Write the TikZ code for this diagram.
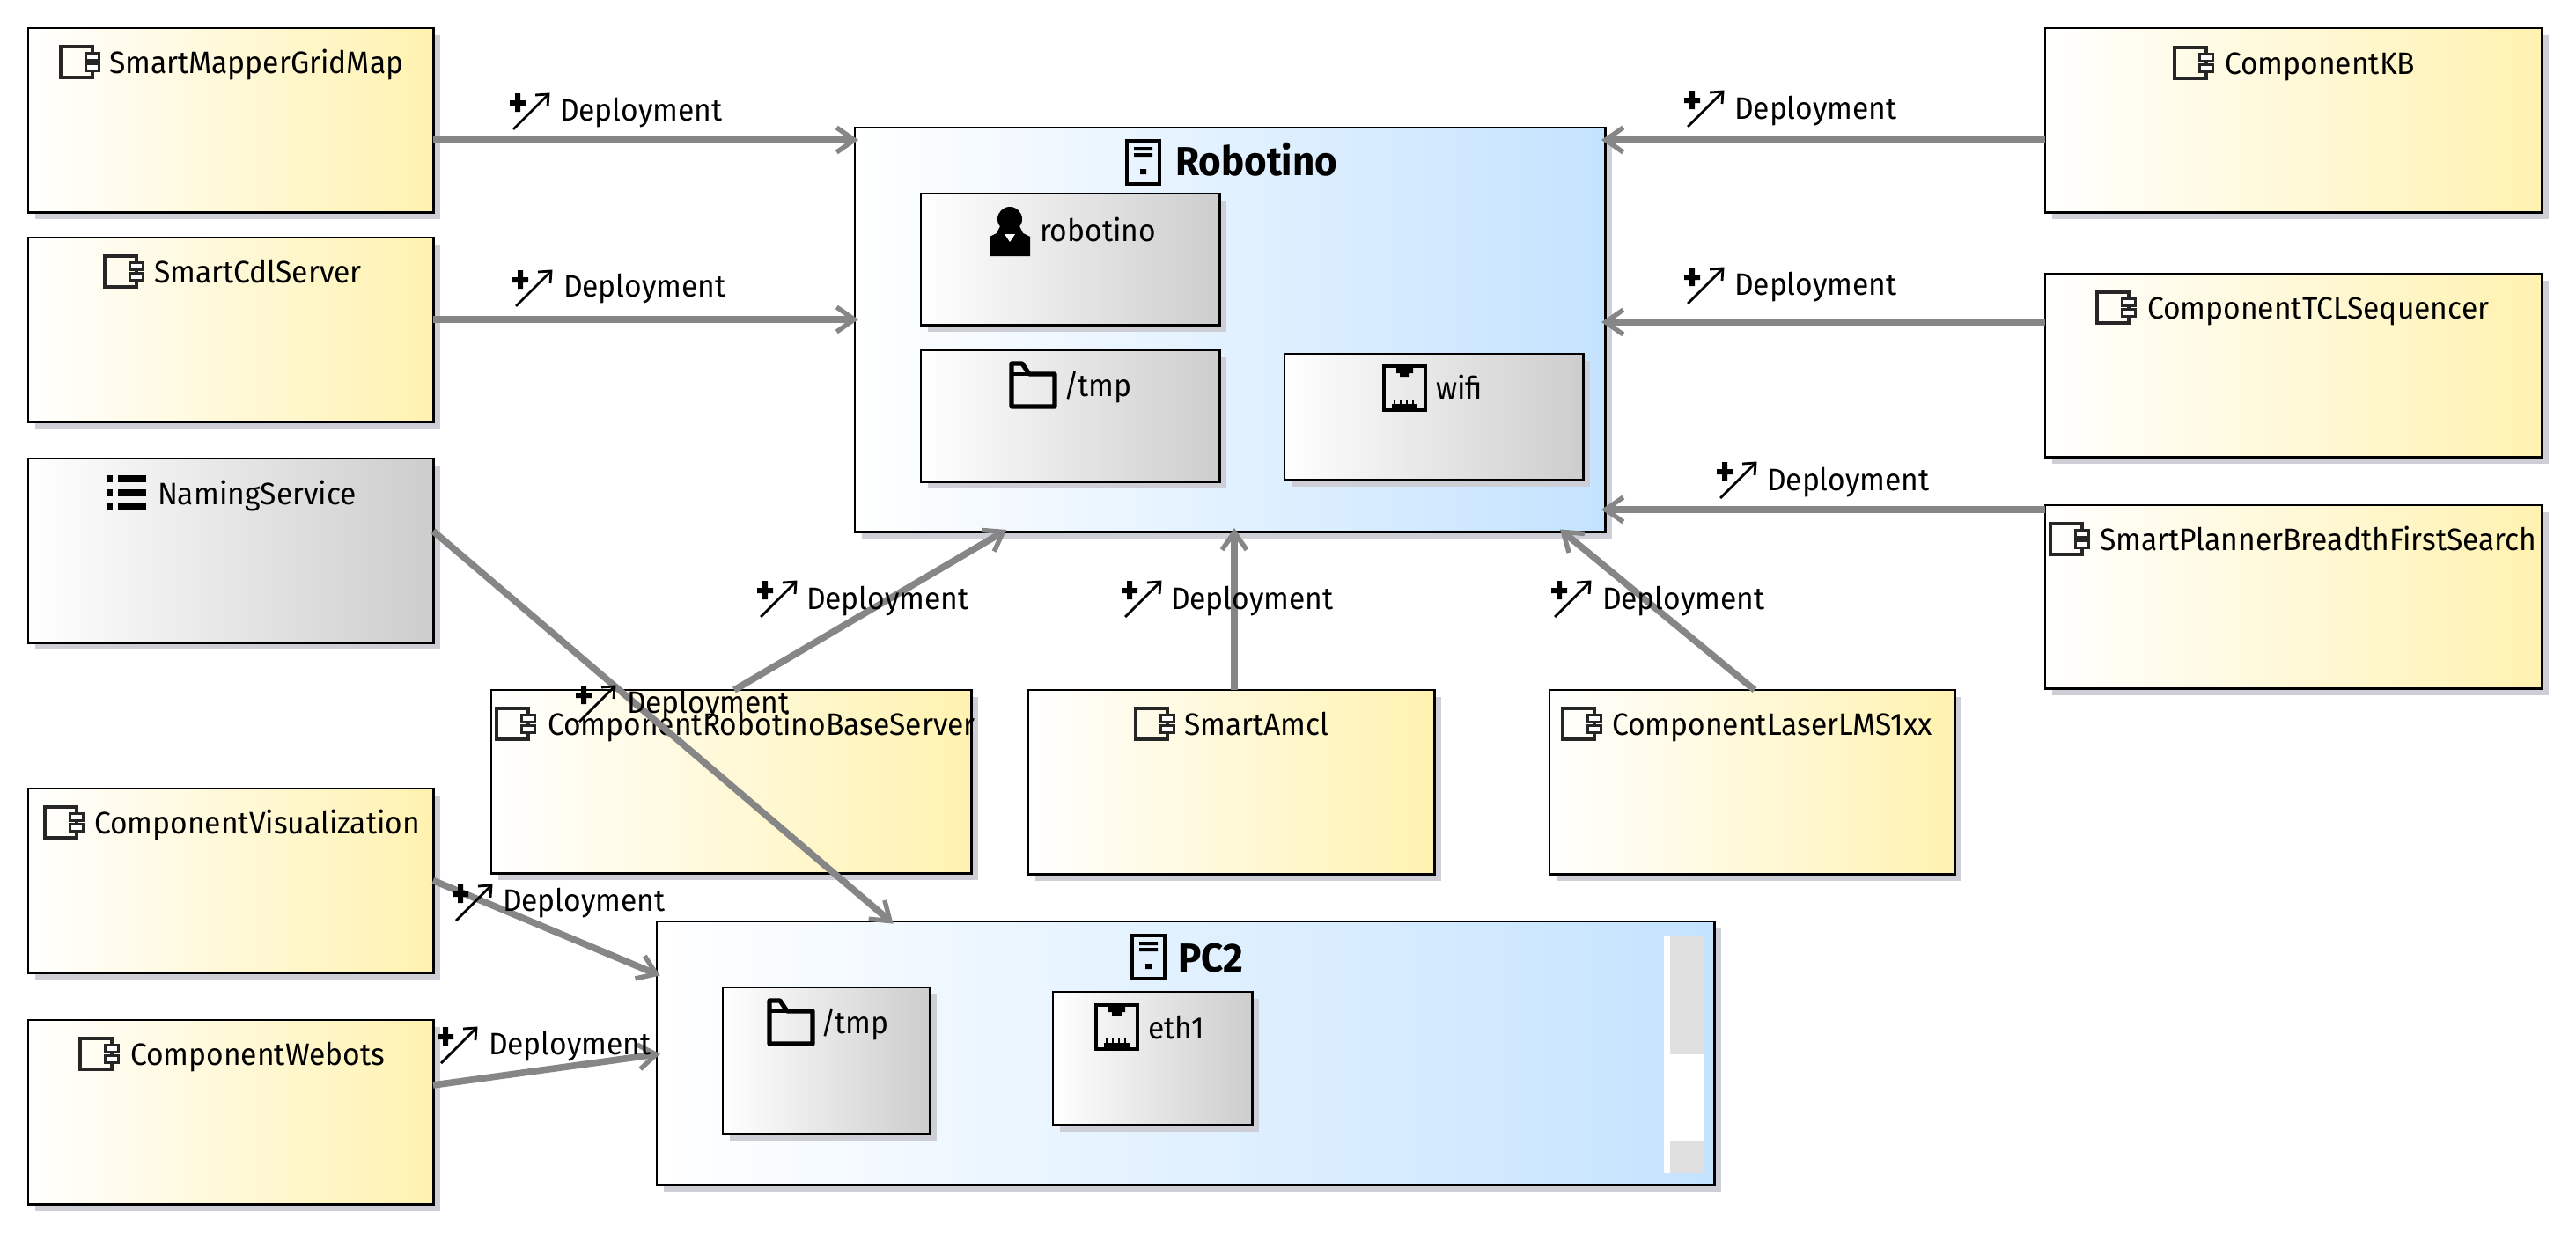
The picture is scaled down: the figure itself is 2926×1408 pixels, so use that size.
\documentclass[tikz,border=0pt]{standalone}
\usepackage{fontspec}
\setmainfont{Fira Sans}[FakeStretch=0.955]
\usetikzlibrary{arrows.meta,shadows,calc}
\definecolor{gline}{HTML}{868686}
\definecolor{shade}{HTML}{CDCED6}
\definecolor{yel}{HTML}{FFF2B0}
\definecolor{blu}{HTML}{C4E3FF}
\definecolor{gry}{HTML}{CDCDCD}
\newcommand\txtsize{\fontsize{17.6}{20}\selectfont}
\tikzset{
  x=0.5pt,y=-0.5pt,
  umlb/.style={rectangle,draw=black,line width=1pt,inner sep=0pt,outer sep=0pt,
    general shadow={shadow xshift=4pt,shadow yshift=-4pt,fill=shade,opacity=1}},
  comp/.style={umlb,left color=white,right color=yel},
  dev/.style={umlb,left color=white,right color=blu},
  art/.style={umlb,left color=white,right color=gry},
  edgeb/.style={line width=1.5pt,black,line cap=rect},
  lab/.style={anchor=base west,inner sep=0pt,outer sep=0pt,font=\txtsize,text=black},
  titl/.style={lab,font=\fontsize{23}{26}\selectfont\bfseries},
  dep/.style={line width=3.8pt,gline,shorten >=-2pt,-{Straight Barb[length=10pt,width=14pt,line width=2.7pt]}},
  pics/compicon/.style={code={
    \draw[line width=1.7pt,black!85] (0,0) rectangle (36,35);
    \draw[line width=1.5pt,black!85,fill=white] (28,7) rectangle (43,15) (28,19) rectangle (43,27);
  }},
  pics/servericon/.style={code={
    \draw[line width=2.4pt,black] (0,0) rectangle (37,49);
    \fill[black] (8,7) rectangle (29,11) (8,14) rectangle (29,18) (15,32) rectangle (22,38);
  }},
  pics/usericon/.style={code={
    \fill[black] (23,14) ellipse (14 and 14);
    \fill[black] (12,22) -- (34,22) -- (38,30) -- (46,34) -- (46,56) -- (0,56) -- (0,34) -- (8,30) -- cycle;
    \fill[white] (17,31) -- (29,31) -- (23,40) -- cycle;
  }},
  pics/foldericon/.style={code={
    \draw[line width=2.6pt,black,line join=round] (0,49) -- (0,0) -- (12,0) -- (20,12) -- (49,12) -- (49,49) -- cycle;
    \draw[line width=2pt,black] (0,12) -- (20,12);
  }},
  pics/porticon/.style={code={
    \draw[line width=2.4pt,black] (0,0) rectangle (47,50);
    \fill[black] (14,2) rectangle (33,8) (18,8) rectangle (29,12);
    \foreach \k in {11,18,25,32}{\fill[black] (\k,38) rectangle (\k+2,48);}
    \fill[black] (9,43) rectangle (38,48);
  }},
  pics/listicon/.style={code={
    \foreach \r in {0,16,32}{
      \fill[black] (0,\r) rectangle (7,\r+8);
      \fill[black] (13,\r) rectangle (45,\r+8);
    }
  }},
  pics/depicon/.style={code={
    \fill[black] (6,0) rectangle (12,21) (0,8) rectangle (18,14);
    \draw[line width=1.4pt,black] (4,41) -- (43,2);
    \draw[line width=1.4pt,black] (29,2) -- (44,1) -- (43,15);
  }},
}
\newcommand\umlbox[6]{%
  \node[#1,minimum width={(#5-#3)*0.5pt},minimum height={(#6-#4)*0.5pt}] (#2) at ({(#3+#5)/2},{(#4+#6)/2}) {};
  \draw[edgeb] (#2.north east) -- (#2.south east) -- (#2.south west);
}
% {name}{icon}{icon x}{icon y}{text x}{baseline}{text}
\newcommand\umllab[7]{%
  \pic at (#3,#4) {#2};
  \node[lab] (#1) at (#5,#6) {#7};
}
\newcommand\deplab[5]{%
  \pic at (#2,#3) {depicon};
  \node[lab] (#1) at (#4,#5) {Deployment};
}
\begin{document}
\begin{tikzpicture}
\useasboundingbox (0,0) rectangle (2926,1408);
% Boxes
\umlbox{comp}{mapper}{32}{32}{492}{241}
\umlbox{comp}{cdl}{32}{270}{492}{479}
\umlbox{art}{naming}{32}{521}{492}{730}
\umlbox{comp}{vis}{32}{896}{492}{1105}
\umlbox{comp}{webots}{32}{1159}{492}{1368}
\umlbox{comp}{kb}{2323}{32}{2887}{241}
\umlbox{comp}{tcl}{2323}{311}{2887}{519}
\umlbox{comp}{planner}{2323}{574}{2887}{782}
\umlbox{comp}{base}{558}{784}{1103}{992}
\umlbox{comp}{amcl}{1168}{784}{1629}{993}
\umlbox{comp}{laser}{1760}{784}{2220}{993}
\umlbox{dev}{rob}{971}{145}{1823}{604}
\umlbox{art}{ruser}{1046}{220}{1385}{369}
\umlbox{art}{rtmp}{1046}{398}{1385}{547}
\umlbox{art}{rwifi}{1459}{402}{1798}{545}
\umlbox{dev}{pc}{746}{1047}{1947}{1346}
\umlbox{art}{ptmp}{821}{1122}{1056}{1288}
\umlbox{art}{peth}{1196}{1127}{1422}{1278}
% scrollbar in PC2
\fill[white] (1890,1063) rectangle (1897,1333);
\fill[black!12] (1897,1063) rectangle (1935,1198);
\fill[white] (1897,1198) rectangle (1935,1296);
\fill[black!12] (1897,1296) rectangle (1935,1333);
% Labels in boxes
\umllab{tmapper}{compicon}{69}{53}{124}{83}{SmartMapperGridMap}
\umllab{tcdl}{compicon}{119}{291}{175}{321}{SmartCdlServer}
\umllab{tnaming}{listicon}{121}{540}{179}{573}{NamingService}
\umllab{tvis}{compicon}{51}{917}{107}{947}{ComponentVisualization}
\umllab{twebots}{compicon}{91}{1180}{148}{1210}{ComponentWebots}
\umllab{tkb}{compicon}{2470}{54}{2527}{84}{ComponentKB}
\umllab{ttcl}{compicon}{2382}{332}{2439}{362}{ComponentTCLSequencer}
\umllab{tplanner}{compicon}{2329}{595}{2385}{625}{SmartPlannerBreadthFirstSearch}
\umllab{tbase}{compicon}{564}{805}{622}{835}{ComponentRobotinoBaseServer}
\umllab{tamcl}{compicon}{1290}{805}{1345}{835}{SmartAmcl}
\umllab{tlaser}{compicon}{1775}{805}{1831}{835}{ComponentLaserLMS1xx}
\pic at (1280,160) {servericon};
\node[titl] (trob) at (1335,199) {Robotino};
\umllab{truser}{usericon}{1124}{235}{1181}{274}{robotino}
\umllab{trtmp}{foldericon}{1149}{413}{1208}{450}{/tmp}
\umllab{trwifi}{porticon}{1572}{416}{1631}{453}{wifi}
\pic at (1286,1063) {servericon};
\node[titl] (tpc) at (1338,1104) {PC2};
\umllab{tptmp}{foldericon}{874}{1137}{932}{1174}{/tmp}
\umllab{tpeth}{porticon}{1245}{1142}{1304}{1180}{eth1}
% Connectors
\draw[dep] ([shift={(0,22.5)}]mapper.east) -- ([shift={(0,-215.5)}]rob.west);
\draw[dep] ([shift={(0,-11.5)}]cdl.east) -- ([shift={(0,-11.5)}]rob.west);
\draw[dep] ([shift={(0,22.5)}]kb.west) -- ([shift={(0,-215.5)}]rob.east);
\draw[dep] ([shift={(0,-49)}]tcl.west) -- ([shift={(0,-8.5)}]rob.east);
\draw[dep] ([shift={(0,-99)}]planner.west) -- ([shift={(0,204.5)}]rob.east);
\draw[dep] ([shift={(3.5,0)}]base.north) -- ([shift={(-257,0)}]rob.south);
\draw[dep] ([shift={(3.5,0)}]amcl.north) -- ([shift={(5,0)}]rob.south);
\draw[dep] ([shift={(3,0)}]laser.north) -- ([shift={(378,0)}]rob.south);
\draw[dep] ([shift={(0,-22)}]naming.east) -- ([shift={(-335,0)}]pc.north);
\draw[dep] (vis.east) -- ([shift={(0,-89.5)}]pc.west);
\draw[dep] ([shift={(0,-30.5)}]webots.east) -- ([shift={(0,1.5)}]pc.west);
% Deployment labels
\deplab{d1}{579}{106}{636}{137}
\deplab{d2}{582}{307}{640}{337}
\deplab{d3}{1913}{103}{1970}{135}
\deplab{d4}{1913}{304}{1970}{335}
\deplab{d5}{1950}{525}{2007}{557}
\deplab{d6}{860}{660}{916}{692}
\deplab{d7}{1274}{660}{1330}{692}
\deplab{d8}{1762}{660}{1820}{692}
\deplab{d9}{654}{779}{712}{810}
\deplab{d10}{514}{1005}{571}{1035}
\deplab{d11}{497}{1167}{555}{1198}
\end{tikzpicture}
\end{document}
